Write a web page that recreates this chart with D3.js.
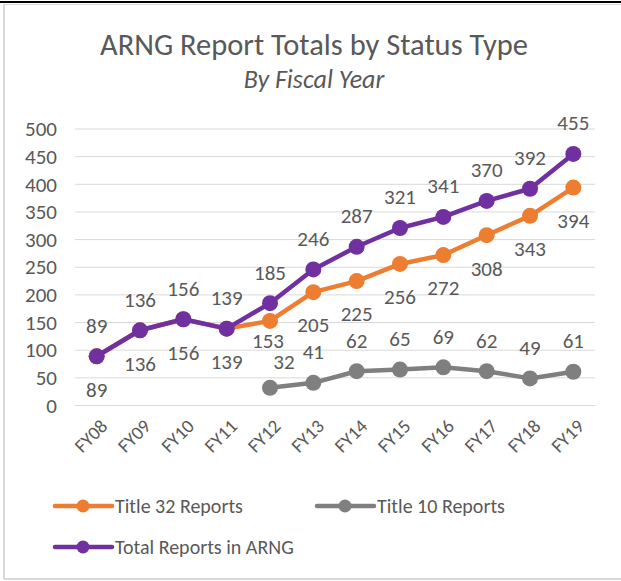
<!DOCTYPE html>
<html>
<head>
<meta charset="utf-8">
<script src="https://cdn.jsdelivr.net/npm/d3@7"></script>
<style>
  body { margin: 0; background: #fff; }
  text { font-family: Carlito, Lato, "Liberation Sans", sans-serif; fill: #595959; }
</style>
</head>
<body>
<div id="chart"></div>
<script>
var years = ["FY08", "FY09", "FY10", "FY11", "FY12", "FY13", "FY14", "FY15", "FY16", "FY17", "FY18", "FY19"];
var title32 = [89, 136, 156, 139, 153, 205, 225, 256, 272, 308, 343, 394];
var title10 = [null, null, null, null, 32, 41, 62, 65, 69, 62, 49, 61];
var total = [89, 136, 156, 139, 185, 246, 287, 321, 341, 370, 392, 455];
var yTicks = [0, 50, 100, 150, 200, 250, 300, 350, 400, 450, 500];

var svgWidth = 621;
var svgHeight = 581;

var svg = d3.select("#chart")
    .append("svg")
    .attr("width", svgWidth)
    .attr("height", svgHeight);

// frame
svg.append("line").attr("x1", 0).attr("x2", svgWidth).attr("y1", 2).attr("y2", 2)
    .attr("stroke", "#000").attr("stroke-width", 2);
svg.append("line").attr("x1", 4).attr("x2", svgWidth).attr("y1", 4.5).attr("y2", 4.5)
    .attr("stroke", "#d9d9d9").attr("stroke-width", 1);
svg.append("line").attr("x1", 4).attr("x2", 4).attr("y1", 4).attr("y2", 579)
    .attr("stroke", "#d9d9d9").attr("stroke-width", 2);
svg.append("line").attr("x1", 4).attr("x2", svgWidth).attr("y1", 579).attr("y2", 579)
    .attr("stroke", "#d9d9d9").attr("stroke-width", 2);

// titles
svg.append("text")
    .attr("x", 314).attr("y", 55)
    .attr("text-anchor", "middle")
    .attr("font-size", 30.5)
    .text("ARNG Report Totals by Status Type");
svg.append("text")
    .attr("x", 314).attr("y", 88)
    .attr("text-anchor", "middle")
    .attr("font-size", 26)
    .attr("font-style", "italic")
    .text("By Fiscal Year");

var x = d3.scalePoint()
    .domain(years)
    .range([75, 595])
    .padding(0.5);

var y = d3.scaleLinear()
    .domain([0, 500])
    .range([405.5, 129]);

// gridlines
svg.append("g")
    .selectAll("line")
    .data(yTicks)
    .enter()
    .append("line")
    .attr("x1", 75).attr("x2", 595)
    .attr("y1", d => y(d)).attr("y2", d => y(d))
    .attr("stroke", "#d9d9d9")
    .attr("stroke-width", 1);

// y axis labels
var leftAxis = d3.axisLeft(y).tickValues(yTicks).tickSize(0).tickPadding(0);
var yAxis = svg.append("g")
    .attr("transform", "translate(57, 0)")
    .call(leftAxis);
yAxis.select(".domain").remove();
yAxis.selectAll("text")
    .attr("font-size", 21)
    .attr("fill", "#595959")
    .style("font-family", "Carlito, Lato, 'Liberation Sans', sans-serif");

// x axis labels
var bottomAxis = d3.axisBottom(x).tickSize(0).tickPadding(0);
var xAxis = svg.append("g")
    .attr("transform", "translate(0, 418)")
    .call(bottomAxis);
xAxis.select(".domain").remove();
xAxis.selectAll("text")
    .attr("font-size", 19)
    .attr("fill", "#595959")
    .style("font-family", "Carlito, Lato, 'Liberation Sans', sans-serif")
    .attr("text-anchor", "end")
    .attr("dy", "0.7em")
    .attr("transform", "translate(2, 0) rotate(-45)");

// label offsets; FY12 labels are squeezed in the original to avoid each other
var series = [
    { name: "Title 32 Reports", values: title32, color: "#ED7D31", labelDy: 33, tweak: { FY12: [-2, 20] } },
    { name: "Title 10 Reports", values: title10, color: "#7F7F7F", labelDy: -31, tweak: { FY12: [14, -26] } },
    { name: "Total Reports in ARNG", values: total, color: "#7030A0", labelDy: -31, tweak: {} }
];

var line = d3.line()
    .defined(d => d.v != null)
    .x(d => x(d.year))
    .y(d => y(d.v));

series.forEach(function (s) {
    var pts = years.map((yr, i) => ({ year: yr, v: s.values[i] }));
    var g = svg.append("g");
    g.append("path")
        .datum(pts)
        .attr("d", line)
        .attr("fill", "none")
        .attr("stroke", s.color)
        .attr("stroke-width", 4.5)
        .attr("stroke-linejoin", "round");
    g.selectAll("circle")
        .data(pts.filter(d => d.v != null))
        .enter()
        .append("circle")
        .attr("cx", d => x(d.year))
        .attr("cy", d => y(d.v))
        .attr("r", 8)
        .attr("fill", s.color);
    s.pts = pts;
});

// data labels
series.forEach(function (s) {
    svg.append("g")
        .selectAll("text")
        .data(s.pts.filter(d => d.v != null))
        .enter()
        .append("text")
        .attr("x", d => x(d.year) + (s.tweak[d.year] ? s.tweak[d.year][0] : 0))
        .attr("y", d => y(d.v) + (s.tweak[d.year] ? s.tweak[d.year][1] : s.labelDy))
        .attr("dy", "0.35em")
        .attr("text-anchor", "middle")
        .attr("font-size", 21)
        .text(d => d.v);
});

// legend
var legendItems = [
    { s: series[0], x: 55, y: 506 },
    { s: series[1], x: 317, y: 506 },
    { s: series[2], x: 55, y: 547 }
];
var lg = svg.append("g");
legendItems.forEach(function (it) {
    lg.append("line")
        .attr("x1", it.x).attr("x2", it.x + 57)
        .attr("y1", it.y).attr("y2", it.y)
        .attr("stroke", it.s.color)
        .attr("stroke-width", 4.5)
        .attr("stroke-linecap", "round");
    lg.append("circle")
        .attr("cx", it.x + 28).attr("cy", it.y)
        .attr("r", 6.5)
        .attr("fill", it.s.color);
    lg.append("text")
        .attr("x", it.x + 60).attr("y", it.y + 7)
        .attr("font-size", 20)
        .text(it.s.name);
});
</script>
</body>
</html>
